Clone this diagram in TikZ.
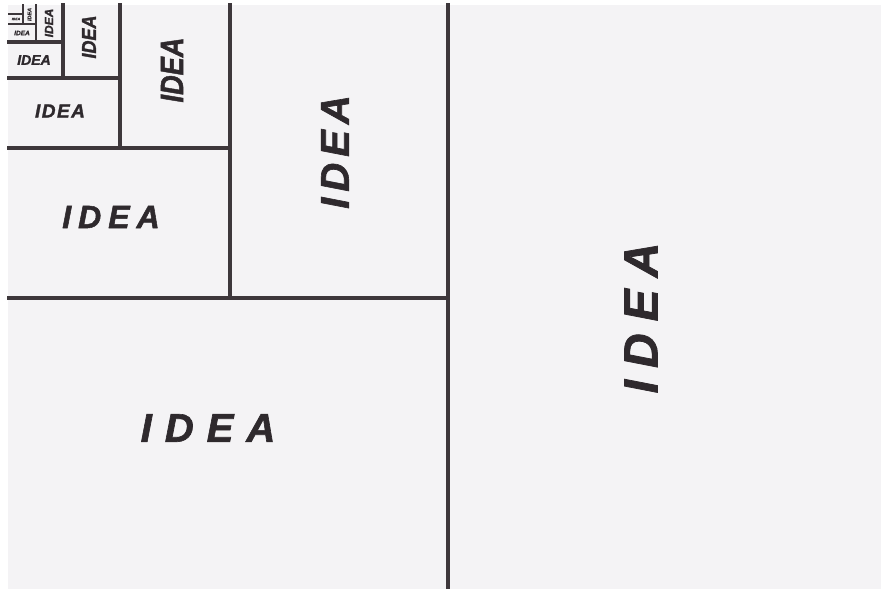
\documentclass[tikz,border=0pt]{standalone}
\usepackage{fontspec}
\setmainfont{Liberation Sans}[BoldItalicFeatures={FakeBold=1.6}]
\definecolor{paper}{HTML}{F4F3F5}
\definecolor{ink}{HTML}{3D373B}
\definecolor{pen}{HTML}{2E292D}
\newcommand{\spidea}[1]{I\hspace{#1}D\hspace{#1}E\hspace{#1}A}
\tikzset{
  divline/.style={draw=ink, line cap=rect},
  word/.style={text=pen, inner sep=0pt, font=\bfseries\itshape}
}
\begin{document}
\begin{tikzpicture}[x=1pt,y=-1pt]
\useasboundingbox (0,0) rectangle (881,589);
\fill[white] (0,0) rectangle (881,589);
\fill[paper] (8,5) rectangle (881,589);
% dividing lines
\draw[divline, line width=4.5pt] (448,5) -- (448,589);
\draw[divline, line width=4.5pt] (9,298) -- (448,298);
\draw[divline, line width=4pt] (230,5) -- (230,298);
\draw[divline, line width=4pt] (9,148) -- (230,148);
\draw[divline, line width=3.6pt] (120,5) -- (120,148);
\draw[divline, line width=3.6pt] (9,78) -- (120,78);
\draw[divline, line width=3.2pt] (63,5) -- (63,78);
\draw[divline, line width=3.2pt] (9,42) -- (63,42);
\draw[divline, line width=2.8pt] (36,5) -- (36,42);
\draw[divline, line width=2.8pt] (9,24) -- (36,24);
\draw[divline, line width=2.4pt] (23,5) -- (23,24);
\draw[divline, line width=2.2pt] (9,14) -- (23,14);
% texts
\node[word, rotate=90, font=\fontsize{48}{48}\selectfont\bfseries\itshape] (t1) at (641,318) {\spidea{12pt}};
\node[word, font=\fontsize{40}{40}\selectfont\bfseries\itshape] (t2) at (208,428) {\spidea{13pt}};
\node[word, rotate=90, font=\fontsize{40}{40}\selectfont\bfseries\itshape] (t3) at (335,152) {\spidea{6pt}};
\node[word, font=\fontsize{32}{32}\selectfont\bfseries\itshape] (t4) at (111,217) {\spidea{7pt}};
\node[word, rotate=90, font=\fontsize{32}{32}\selectfont\bfseries\itshape] (t5) at (172,70) {\scalebox{0.85}[1]{IDEA}};
\node[word, font=\fontsize{19}{19}\selectfont\bfseries\itshape] (t6) at (60,111) {\spidea{1.5pt}};
\node[word, rotate=90, font=\fontsize{20}{20}\selectfont\bfseries\itshape] (t7) at (89,37) {\scalebox{0.9}[1]{IDEA}};
\node[word, font=\fontsize{14}{14}\selectfont\bfseries\itshape] (t8) at (34,60) {IDEA};
\node[word, rotate=90, font=\fontsize{12}{12}\selectfont\bfseries\itshape] (t9) at (49,23) {IDEA};
\node[word, font=\fontsize{6.5}{6.5}\selectfont\bfseries\itshape] (t10) at (22,33) {IDEA};
\node[word, rotate=90, font=\fontsize{5.5}{5.5}\selectfont\bfseries\itshape] (t11) at (29.5,14.5) {IDEA};
\node[word, font=\fontsize{3.5}{3.5}\selectfont\bfseries\itshape] (t12) at (16,19) {IDEA};
\end{tikzpicture}
\end{document}
